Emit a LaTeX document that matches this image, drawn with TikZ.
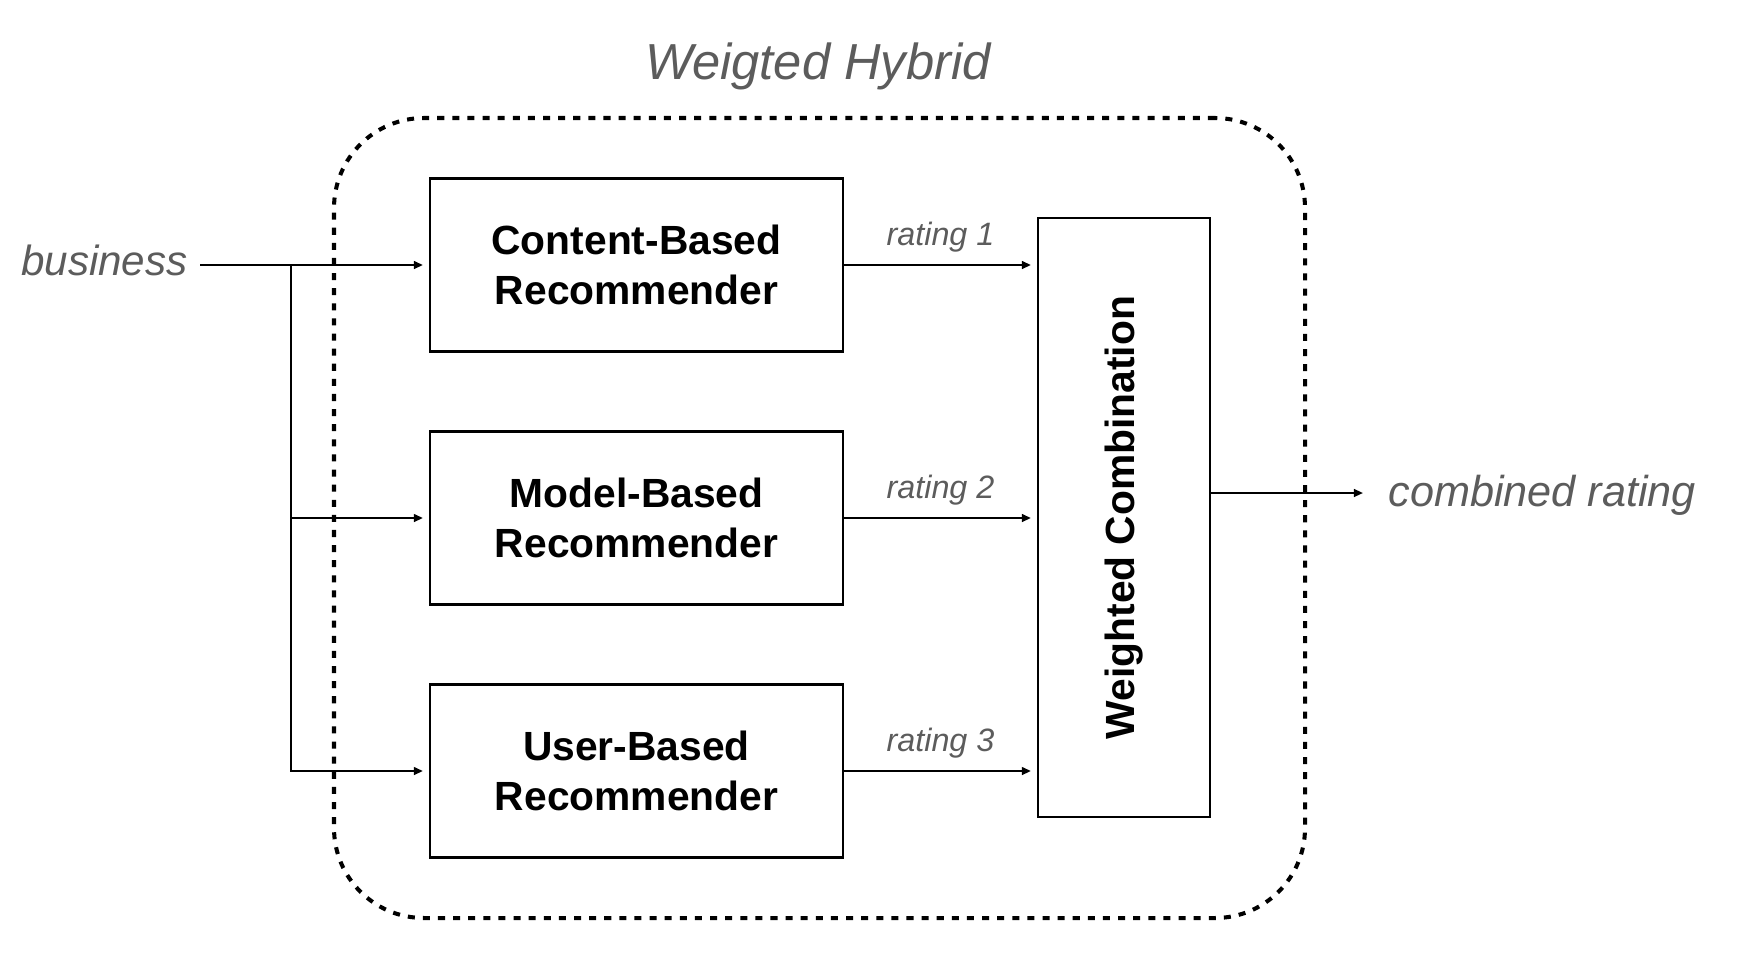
\documentclass[tikz,border=0pt]{standalone}
\usepackage{fontspec}
\usepackage{graphicx}
\setmainfont{Liberation Sans}
\usetikzlibrary{arrows.meta}
\definecolor{labelgray}{RGB}{92,92,92}
\tikzstyle{recbox} = [draw=black,line width=0.6pt,minimum width=4.13cm,minimum height=1.73cm,align=center,font=\fontsize{11.6}{14.2}\selectfont\bfseries]
\tikzstyle{textlabel} = [text=labelgray,font=\itshape\fontsize{12}{14}\selectfont]
\tikzstyle{ratinglabel} = [text=labelgray,font=\itshape\fontsize{9.2}{11}\selectfont]
\tikzstyle{flow} = [line width=0.6pt,-{Triangle[length=2.6pt,width=2.2pt]},shorten >=0.06cm]
\tikzstyle{hybridframe} = [draw=black,line width=1.15pt,dash pattern=on 2pt off 2.3pt,rounded corners=0.9cm]

\begin{document}
\begin{tikzpicture}
  \useasboundingbox (0,0) rectangle (17.56,-9.58);

  % frame and title
  \node[hybridframe,minimum width=9.71cm,minimum height=8.0cm] (hybrid) at (8.195,-5.18) {};
  \node[textlabel,font=\itshape\fontsize{14.4}{17}\selectfont] (title) at (8.18,-0.66) {Weigted Hybrid};

  % recommenders
  \node[recbox] (content) at (6.365,-2.65) {Content-Based\\Recommender};
  \node[recbox] (model) at (6.365,-5.18) {Model-Based\\Recommender};
  \node[recbox] (user) at (6.365,-7.71) {User-Based\\Recommender};
  \node[recbox,minimum width=1.72cm,minimum height=5.99cm] (comb) at (11.24,-5.175) {\rotatebox{90}{Weighted Combination}};

  % input and output
  \node[textlabel,anchor=east] (business) at (2.0,-2.60) {business};
  \node[textlabel,anchor=west,font=\itshape\fontsize{12.3}{14}\selectfont] (result) at (13.76,-4.95) {combined rating};
  \coordinate (split) at (2.91,-2.65);
  \coordinate (outend) at (13.69,-4.93);

  \draw[flow] (business.east |- content.west) -- (content.west);
  \draw[flow] (split) |- (model.west);
  \draw[flow] (split) |- (user.west);

  \draw[flow] (content.east) -- node[ratinglabel,above] {rating 1} (content.east -| comb.west);
  \draw[flow] (model.east) -- node[ratinglabel,above] {rating 2} (model.east -| comb.west);
  \draw[flow] (user.east) -- node[ratinglabel,above] {rating 3} (user.east -| comb.west);

  \draw[flow] (comb.east |- outend) -- (outend);
\end{tikzpicture}
\end{document}
